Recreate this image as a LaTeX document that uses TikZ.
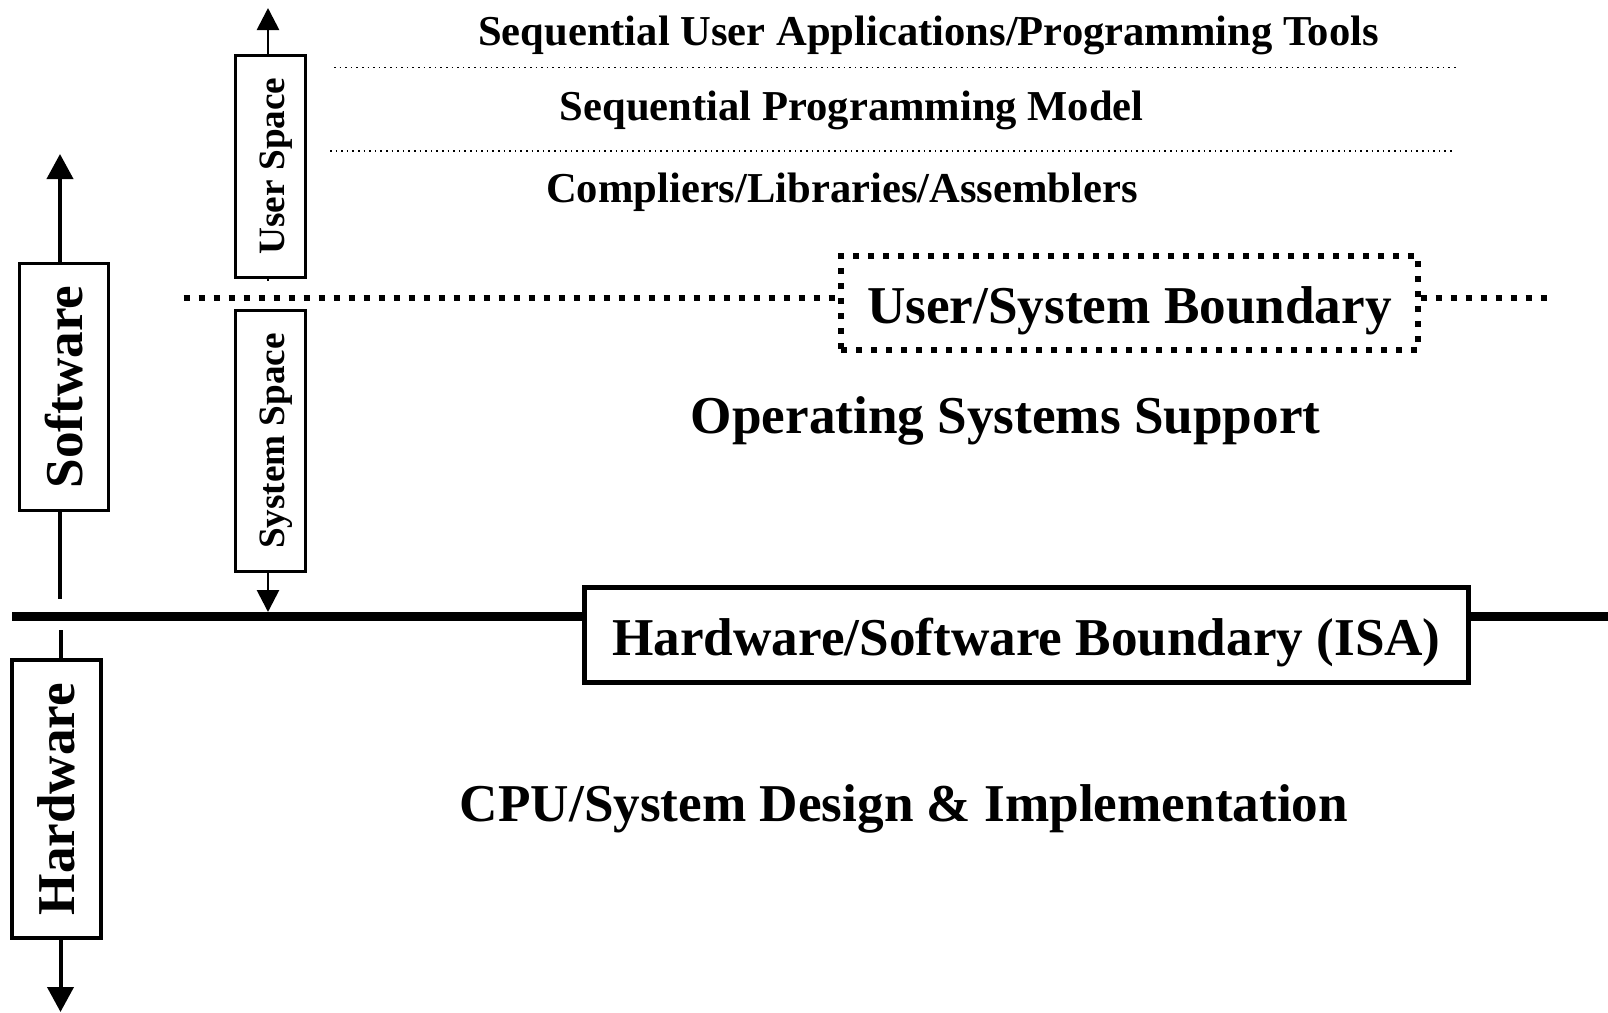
\documentclass[tikz,border=0pt]{standalone}
\usepackage{fontspec}
\setmainfont{Liberation Serif}
\usetikzlibrary{%
  arrows.meta,%
  calc%
}

\tikzset{
  sidebox/.style={draw,line width=1.7pt,rotate=90,inner sep=0pt,minimum height=44.5pt,font=\fontsize{26.6}{30}\selectfont\bfseries},
  spacebox/.style={draw,line width=1.5pt,rotate=90,inner sep=0pt,minimum height=35pt,text height=16.5pt,text depth=2pt,font=\fontsize{18.6}{22}\selectfont\bfseries},
  layertxt/.style={inner sep=0pt,font=\fontsize{21.3}{25}\selectfont\bfseries},
  bigtxt/.style={inner sep=0pt,font=\fontsize{26.6}{30}\selectfont\bfseries},
  boxtxt/.style={bigtxt,text height=22pt,text depth=2pt},
  bigarrow/.style={line width=2pt,-{Triangle[width=13pt,length=12.5pt]}},
  smallarrow/.style={line width=1.4pt,-{Triangle[width=11pt,length=11pt]}},
  boundary/.style={line width=3pt,dash pattern=on 3pt off 4.5pt},
  sepline/.style={line width=0.8pt,dotted}
}

\begin{document}
\begin{tikzpicture}[x=0.5pt,y=-0.5pt]%, y grows downwards
\useasboundingbox (0,0) rectangle (1608,1013);

%% software / hardware
\node[sidebox,minimum width=123.5pt] (sw) at (63.8,387) {Software};
\node[sidebox,minimum width=139pt] (hw) at (56.3,799) {Hardware};
\coordinate (swtop) at (60,154);
\coordinate (swend) at (60,599);
\coordinate (hwbeg) at (60.5,630);
\coordinate (hwbot) at (60.5,1012);
\draw [bigarrow] (sw.east -| swtop) -- (swtop);
\draw [line width=2pt] (sw.west -| swend) -- (swend);
\draw [line width=2pt] (hwbeg) -- (hw.east -| hwbeg);
\draw [bigarrow] (hw.west -| hwbot) -- (hwbot);

%% user / system space
\node[spacebox,minimum width=111pt] (us) at (270,166) {User Space};
\node[spacebox,minimum width=130.5pt] (ss) at (270,441) {System Space};
\coordinate (ustop) at (268,8);
\coordinate (usstub) at (268,281);
\coordinate (sstip) at (268,612);
\draw [smallarrow] (us.east -| ustop) -- (ustop);
\draw [line width=1.4pt] (us.west -| usstub) -- (usstub);
\draw [smallarrow] (ss.west -| sstip) -- (sstip);

%% hardware/software boundary
\node[draw,line width=2.5pt,boxtxt,minimum width=442pt,minimum height=47.2pt] (isa) at (1026.5,635) {Hardware/Software Boundary (ISA)};
\coordinate (hlL) at (12,616);
\coordinate (hlR) at (1608,616);
\draw [line width=4.5pt] (hlL) -- (isa.west |- hlL);
\draw [line width=4.5pt] (isa.east |- hlR) -- (hlR);

%% user/system boundary
\node[draw,boundary,line width=2.6pt,boxtxt,minimum width=288.5pt,minimum height=47pt] (usb) at (1129.5,303) {User/System Boundary};
\coordinate (ubL) at (183.6,298);
\coordinate (ubR) at (1546.5,298);
\draw [boundary] (ubL) -- (usb.west |- ubL);
\draw [boundary] (usb.east |- ubR) -- (ubR);

%% layers
\draw [sepline] (334,67.5) -- (1456,67.5);
\draw [sepline] (330,151) -- (1452,151);
\node[layertxt] (apps) at (928.5,35) {Sequential User Applications/Programming Tools};
\node[layertxt] (model) at (851.8,110) {Sequential Programming Model};
\node[layertxt] (tools) at (842,192.5) {Compliers/Libraries/Assemblers};
\node[bigtxt] (os) at (1005.6,420.5) {Operating Systems Support};
\node[bigtxt] (cpu) at (904,808.5) {CPU/System Design \& Implementation};
\end{tikzpicture}
\end{document}
